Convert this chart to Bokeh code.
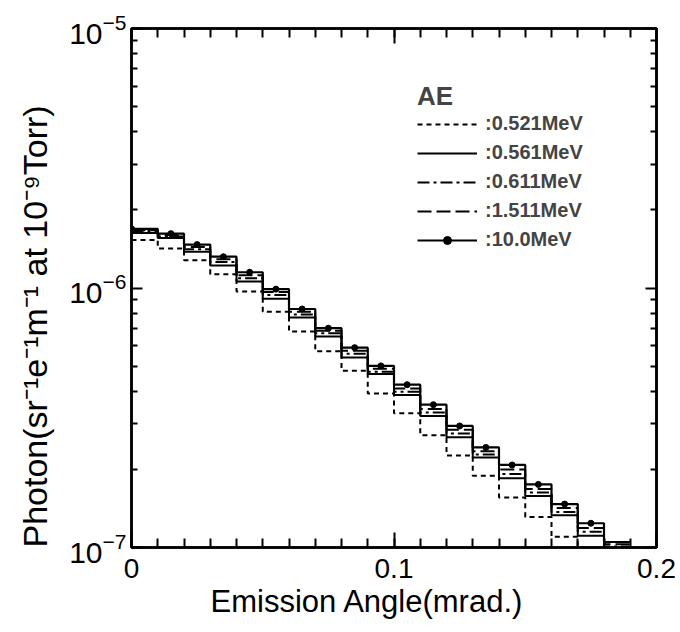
from bokeh.plotting import figure
from bokeh.models import (LinearAxis, LogAxis, FixedTicker, Legend, LegendItem,
                          CustomJSTickFormatter, Range1d, Title)
from bokeh.embed import file_html
from bokeh.resources import INLINE

FONT = "Liberation Sans"

# Histogram bin edges of the emission angle (mrad.)
angle_edges = [0.00, 0.01, 0.02, 0.03, 0.04, 0.05, 0.06, 0.07, 0.08, 0.09,
               0.10, 0.11, 0.12, 0.13, 0.14, 0.15, 0.16, 0.17, 0.18, 0.19]

# Photon yield per bin (sr^-1 e^-1 m^-1 at 1e-9 Torr)
photon_0521 = [1.53e-6, 1.42e-6, 1.28e-6, 1.13e-6, 9.7e-7, 8.1e-7, 6.8e-7,
               5.7e-7, 4.8e-7, 3.92e-7, 3.29e-7, 2.71e-7, 2.26e-7, 1.89e-7,
               1.56e-7, 1.31e-7, 1.10e-7, 9.2e-8, 7.7e-8]
photon_0561 = [1.63e-6, 1.56e-6, 1.38e-6, 1.22e-6, 1.06e-6, 9.1e-7, 7.7e-7,
               6.5e-7, 5.4e-7, 4.66e-7, 3.87e-7, 3.21e-7, 2.66e-7, 2.22e-7,
               1.85e-7, 1.58e-7, 1.33e-7, 1.11e-7, 9.4e-8]
photon_0611 = [1.66e-6, 1.58e-6, 1.41e-6, 1.26e-6, 1.09e-6, 9.4e-7, 7.9e-7,
               6.7e-7, 5.58e-7, 4.76e-7, 3.98e-7, 3.31e-7, 2.75e-7, 2.28e-7,
               1.92e-7, 1.63e-7, 1.37e-7, 1.15e-7, 1.01e-7]
photon_1511 = [1.67e-6, 1.60e-6, 1.44e-6, 1.29e-6, 1.12e-6, 9.65e-7, 8.1e-7,
               6.85e-7, 5.73e-7, 4.88e-7, 4.10e-7, 3.42e-7, 2.84e-7, 2.35e-7,
               2.00e-7, 1.68e-7, 1.42e-7, 1.19e-7, 1.03e-7]
photon_10000 = [1.69e-6, 1.62e-6, 1.47e-6, 1.32e-6, 1.15e-6, 9.9e-7, 8.3e-7,
                7.0e-7, 5.89e-7, 5.01e-7, 4.24e-7, 3.55e-7, 2.94e-7, 2.43e-7,
                2.08e-7, 1.75e-7, 1.47e-7, 1.24e-7, 1.05e-7]

# Sample points marked on the 10.0 MeV curve
marker_angles = [0.000, 0.015, 0.025, 0.035, 0.045, 0.055, 0.065, 0.075, 0.085,
                 0.095, 0.105, 0.115, 0.125, 0.135, 0.145, 0.155, 0.165, 0.175]
marker_photons = photon_10000[:len(marker_angles)]

x_ticks = [0.0, 0.1, 0.2]
y_ticks = [1e-7, 1e-6, 1e-5]

p = figure(width=680, height=632, x_range=Range1d(0, 0.2),
           y_range=Range1d(1e-7, 1e-5), y_axis_type="log",
           output_backend="svg", toolbar_location=None,
           min_border_left=131, min_border_right=24,
           min_border_top=28, min_border_bottom=85)
p.grid.visible = False
p.outline_line_color = "black"
p.outline_line_width = 2.5
p.background_fill_color = "white"
p.border_fill_color = "white"

x_ticker = FixedTicker(ticks=x_ticks, minor_ticks=[i / 100 for i in range(21)])
y_ticker = FixedTicker(ticks=y_ticks,
                       minor_ticks=[k * 10.0 ** e for e in (-7, -6) for k in range(2, 10)])


def style_axis(ax, major, minor, label_size=None):
    ax.major_tick_in = major
    ax.major_tick_out = 0
    ax.minor_tick_in = minor
    ax.minor_tick_out = 0
    ax.axis_line_width = 2.5
    ax.major_tick_line_width = 2
    ax.minor_tick_line_width = 2
    ax.major_label_text_font = FONT
    if label_size:
        ax.major_label_text_font_size = label_size
        ax.major_label_text_color = "black"
    else:
        ax.major_label_text_font_size = "4px"
        ax.major_label_text_color = None
        ax.major_label_standoff = 0


bottom = p.xaxis[0]
bottom.ticker = x_ticker
bottom.formatter = CustomJSTickFormatter(code="return tick === 0 ? '0' : tick.toFixed(1);")
style_axis(bottom, 15, 9, "28px")
bottom.major_label_standoff = 11

left = p.yaxis[0]
left.ticker = y_ticker
style_axis(left, 11, 6, "30px")
left.major_label_standoff = 5

top = LinearAxis(ticker=x_ticker)
style_axis(top, 15, 9)
p.add_layout(top, "above")

right = LogAxis(ticker=y_ticker)
style_axis(right, 11, 6)
p.add_layout(right, "right")

# Axis titles
p.add_layout(Title(text="Emission Angle(mrad.)", align="left", offset=79,
                   standoff=3, text_font=FONT, text_font_size="31px",
                   text_font_style="normal", text_color="black"), "below")
p.add_layout(Title(text="Photon(sr\u207b\u00b9e\u207b\u00b9m\u207b\u00b9 at 10\u207b\u2079Torr)",
                   align="left", offset=0, standoff=26, text_font=FONT,
                   text_font_size="34px", text_font_style="normal",
                   text_color="black"), "left")


# Step histograms, one per beam energy
def steps(vals):
    return vals + [vals[-1]]


r521 = p.step(angle_edges, steps(photon_0521), mode="after", line_color="black",
              line_width=2, line_dash="5 4")
r561 = p.step(angle_edges, steps(photon_0561), mode="after", line_color="black",
              line_width=2)
r611 = p.step(angle_edges, steps(photon_0611), mode="after", line_color="black",
              line_width=2, line_dash="12 4 3 4")
r1511 = p.step(angle_edges, steps(photon_1511), mode="after", line_color="black",
               line_width=2, line_dash="14 5")
r10 = p.step(angle_edges, steps(photon_10000), mode="after", line_color="black",
             line_width=2.2)
r10m = p.scatter(marker_angles, marker_photons, size=6, marker="circle",
                 fill_color="black", line_color="black")

legend = Legend(items=[
    LegendItem(label=":0.521MeV", renderers=[r521]),
    LegendItem(label=":0.561MeV", renderers=[r561]),
    LegendItem(label=":0.611MeV", renderers=[r611]),
    LegendItem(label=":1.511MeV", renderers=[r1511]),
    LegendItem(label=":10.0MeV", renderers=[r10, r10m]),
], location=(286, 296), title="AE",
    title_text_font=FONT, title_text_font_size="26px", title_text_font_style="bold",
    title_standoff=0,
    label_text_font=FONT, label_text_font_size="20px", label_text_font_style="bold",
    glyph_width=60, glyph_height=20, label_height=20, spacing=6,
    label_standoff=8, padding=0, margin=0,
    border_line_color=None, background_fill_alpha=0)
p.add_layout(legend, "center")

open("out.html", "w").write(file_html(p, INLINE))
